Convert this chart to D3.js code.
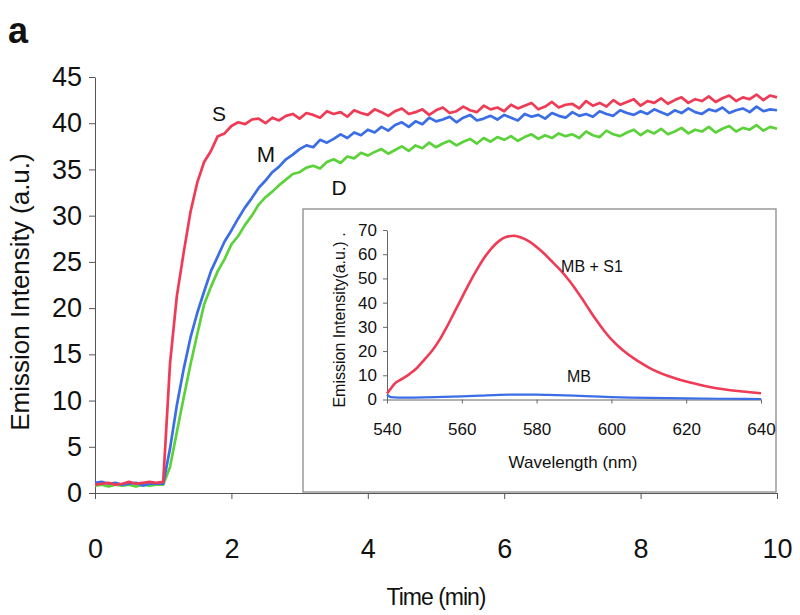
<!DOCTYPE html>
<html><head><meta charset="utf-8">
<script src="https://cdn.jsdelivr.net/npm/d3@7"></script>
<style>
body{margin:0;background:#fff}
text{font-family:Arial,"Liberation Sans",sans-serif;fill:#111}
</style>
</head><body>
<svg id="c" width="800" height="615"></svg>
<script>
// ---- main chart data (time in min, intensity a.u.) ----
const times=[0,0.1,0.2,0.3,0.4,0.5,0.6,0.7,0.8,0.9,1,1.1,1.2,1.3,1.4,1.5,1.6,1.7,1.8,1.9,2,2.1,2.2,2.3,2.4,2.5,2.6,2.7,2.8,2.9,3,3.1,3.2,3.3,3.4,3.5,3.6,3.7,3.8,3.9,4,4.1,4.2,4.3,4.4,4.5,4.6,4.7,4.8,4.9,5,5.1,5.2,5.3,5.4,5.5,5.6,5.7,5.8,5.9,6,6.1,6.2,6.3,6.4,6.5,6.6,6.7,6.8,6.9,7,7.1,7.2,7.3,7.4,7.5,7.6,7.7,7.8,7.9,8,8.1,8.2,8.3,8.4,8.5,8.6,8.7,8.8,8.9,9,9.1,9.2,9.3,9.4,9.5,9.6,9.7,9.8,9.9,10];
const seriesS=[0.9,1.0,1.1,0.9,1.0,1.2,1.0,1.1,1.2,1.1,
  1.2,14.0,21.3,26.0,30.4,33.6,35.8,37.0,38.6,38.9,
  39.7,40.1,39.9,40.4,40.5,40.0,40.6,40.3,40.8,41.0,
  40.5,41.1,40.9,40.6,41.3,41.0,41.2,40.7,41.4,41.1,
  40.9,41.5,41.2,40.8,41.3,41.6,41.0,41.2,41.5,40.9,
  41.4,41.7,41.1,41.3,41.8,41.4,41.2,41.9,41.5,41.7,
  41.3,42.0,41.6,41.9,42.2,41.5,41.8,42.3,41.7,42.0,
  42.1,41.6,42.4,41.9,42.2,41.8,42.5,42.0,42.3,42.6,
  41.9,42.4,42.2,42.7,42.1,42.5,42.8,42.2,42.6,42.4,
  42.9,42.3,42.7,43.0,42.4,42.8,42.6,43.1,42.5,43.0,
  42.8];
const seriesM=[1.1,1.2,1.0,1.1,0.9,1.0,1.1,0.8,1.0,1.0,
  1.0,4.8,9.5,13.4,16.8,19.5,21.8,24.0,25.6,27.2,
  28.4,29.7,30.9,31.9,33.0,33.8,34.7,35.3,36.1,36.6,
  37.2,37.6,37.4,38.2,37.9,38.3,38.8,38.4,39.0,38.7,
  39.3,39.0,39.6,39.2,39.8,40.1,39.6,40.2,39.9,40.6,
  40.2,40.4,40.7,40.1,40.6,40.9,40.3,40.5,40.8,40.4,
  40.9,40.6,40.3,41.0,40.7,40.9,40.5,41.1,40.8,40.6,
  41.2,40.8,41.0,40.7,41.3,41.0,40.8,41.4,41.1,40.9,
  41.3,41.0,41.5,41.2,40.9,41.4,41.1,41.6,41.2,41.0,
  41.5,41.3,41.7,41.1,41.4,41.6,41.2,41.8,41.3,41.5,
  41.4];
const seriesD=[0.8,0.9,0.7,0.9,0.8,0.9,0.7,0.9,0.8,0.9,
  0.9,2.8,6.6,10.3,13.9,17.2,20.4,22.3,24.0,25.3,
  26.9,27.8,29.0,30.0,31.2,32.0,32.6,33.3,33.9,34.5,
  34.7,35.2,35.4,35.1,35.8,36.1,35.7,36.4,36.2,36.8,
  36.5,36.9,37.2,36.7,37.1,37.5,37.0,37.6,37.3,37.9,
  37.4,37.8,38.1,37.6,38.0,38.3,37.8,38.4,38.0,38.5,
  38.2,38.6,38.1,38.5,38.8,38.3,38.7,38.4,38.9,38.6,
  38.8,38.4,39.1,38.7,38.5,39.2,38.8,38.6,39.0,39.3,
  38.7,39.2,38.9,39.4,38.8,39.1,39.5,38.9,39.3,39.1,
  39.6,39.0,39.4,39.7,39.1,39.5,39.3,39.8,39.2,39.6,
  39.4];
const seriesNames=["S","M","D"];
const xTicks=[0,2,4,6,8,10];
const yTicks=[0,5,10,15,20,25,30,35,40,45];

// ---- inset data (wavelength nm, intensity a.u.) ----
const insetWl=[540,541,542,544,546,548,550,552,554,556,558,560,562,564,566,568,570,572,574,576,578,580,582,584,586,588,590,592,594,596,598,600,602,604,606,608,610,615,620,625,630,635,640];
const insetMBS1=[2.5,4.5,6.5,8.5,10.5,13,16.5,20,24.5,30,36,42,48,53.5,58.5,62.5,65.5,67.2,67.6,66.8,65.3,63,60.3,57.2,54,50.5,46.5,42,37.3,32.7,28.5,24.8,21.8,19.2,17,15,13.2,9.8,7.4,5.6,4.2,3.3,2.6];
const insetWlMB=[540,541,543,545,550,555,560,565,570,575,580,585,590,595,600,605,610,620,630,640];
const insetMB=[2.0,1.0,0.8,0.8,0.9,1.1,1.3,1.6,1.9,2.0,2.0,1.8,1.6,1.3,1.0,0.8,0.7,0.5,0.3,0.2];
const insetXTicks=[540,560,580,600,620,640];
const insetYTicks=[0,10,20,30,40,50,60,70];

const colors={S:"#ef3b55",M:"#3b6ee6",D:"#5bd23a"};

const svg=d3.select("#c");
svg.append("rect").attr("width",800).attr("height",615).attr("fill","#fff");

// panel letter
svg.append("text").attr("x",8).attr("y",43).attr("font-size",36).attr("font-weight","bold").text("a");

const x=d3.scaleLinear().domain([0,10]).range([95,777]);
const y=d3.scaleLinear().domain([0,45]).range([493,77]);

const gx=svg.append("g").attr("transform","translate(0,493)")
  .call(d3.axisBottom(x).tickValues(xTicks).tickSize(6).tickSizeOuter(0).tickPadding(40).tickFormat(d3.format("d")));
const gy=svg.append("g").attr("transform","translate(95,0)")
  .call(d3.axisLeft(y).tickValues(yTicks).tickSize(6).tickSizeOuter(0).tickPadding(7).tickFormat(d3.format("d")));
[gx,gy].forEach(g=>{
  g.selectAll("path,line").attr("stroke","#555");
  g.selectAll("text").attr("font-size",27).attr("fill","#111").attr("font-family",'Arial,"Liberation Sans",sans-serif');
});

svg.append("text").attr("transform","translate(29,292) rotate(-90)").attr("text-anchor","middle")
  .attr("font-size",26).text("Emission Intensity (a.u.)");
svg.append("text").attr("x",436).attr("y",605).attr("text-anchor","middle")
  .attr("font-size",23).attr("letter-spacing",-1).text("Time (min)");

// inset box
svg.append("rect").attr("x",303).attr("y",209).attr("width",473).attr("height",283)
  .attr("fill","#fff").attr("stroke","#8a8a8a").attr("stroke-width",1.3);

// main curves
const line=d3.line().x((d,i)=>x(times[i])).y(d=>y(d));
const data={S:seriesS,M:seriesM,D:seriesD};
["D","M","S"].forEach(k=>{
  svg.append("path").datum(data[k]).attr("d",line).attr("fill","none")
    .attr("stroke",colors[k]).attr("stroke-width",2.7).attr("stroke-linejoin","round");
});
svg.append("text").attr("x",219).attr("y",121).attr("text-anchor","middle").attr("font-size",21).text(seriesNames[0]);
svg.append("text").attr("x",266).attr("y",162).attr("text-anchor","middle").attr("font-size",22).text(seriesNames[1]);
svg.append("text").attr("x",339).attr("y",195).attr("text-anchor","middle").attr("font-size",21).text(seriesNames[2]);

// inset chart
const ix=d3.scaleLinear().domain([540,640]).range([387,761]);
const iy=d3.scaleLinear().domain([0,70]).range([399.5,230]);
const igx=svg.append("g").attr("transform","translate(0,399.5)")
  .call(d3.axisBottom(ix).tickValues(insetXTicks).tickSize(4).tickSizeOuter(0).tickPadding(19));
const igy=svg.append("g").attr("transform","translate(387,0)")
  .call(d3.axisLeft(iy).tickValues(insetYTicks).tickSize(4).tickSizeOuter(0).tickPadding(6));
[igx,igy].forEach(g=>{
  g.selectAll("path,line").attr("stroke","#666");
  g.selectAll("text").attr("font-size",17).attr("fill","#111").attr("font-family",'Arial,"Liberation Sans",sans-serif');
});
svg.append("text").attr("transform","translate(345,320) rotate(-90)").attr("text-anchor","middle")
  .attr("font-size",16).text("Emission Intensity(a.u.)  .");
svg.append("text").attr("x",573).attr("y",468).attr("text-anchor","middle").attr("font-size",17).text("Wavelength (nm)");

const iline=d3.line().curve(d3.curveMonotoneX);
svg.append("path").datum(insetWlMB.map((w,i)=>[ix(w),iy(insetMB[i])])).attr("d",iline)
  .attr("fill","none").attr("stroke",colors.M).attr("stroke-width",2.2);
svg.append("path").datum(insetWl.map((w,i)=>[ix(w),iy(insetMBS1[i])])).attr("d",iline)
  .attr("fill","none").attr("stroke",colors.S).attr("stroke-width",2.6);
svg.append("text").attr("x",592).attr("y",272).attr("text-anchor","middle").attr("font-size",16).text("MB + S1");
svg.append("text").attr("x",579).attr("y",382).attr("text-anchor","middle").attr("font-size",16).text("MB");
</script>
</body></html>
